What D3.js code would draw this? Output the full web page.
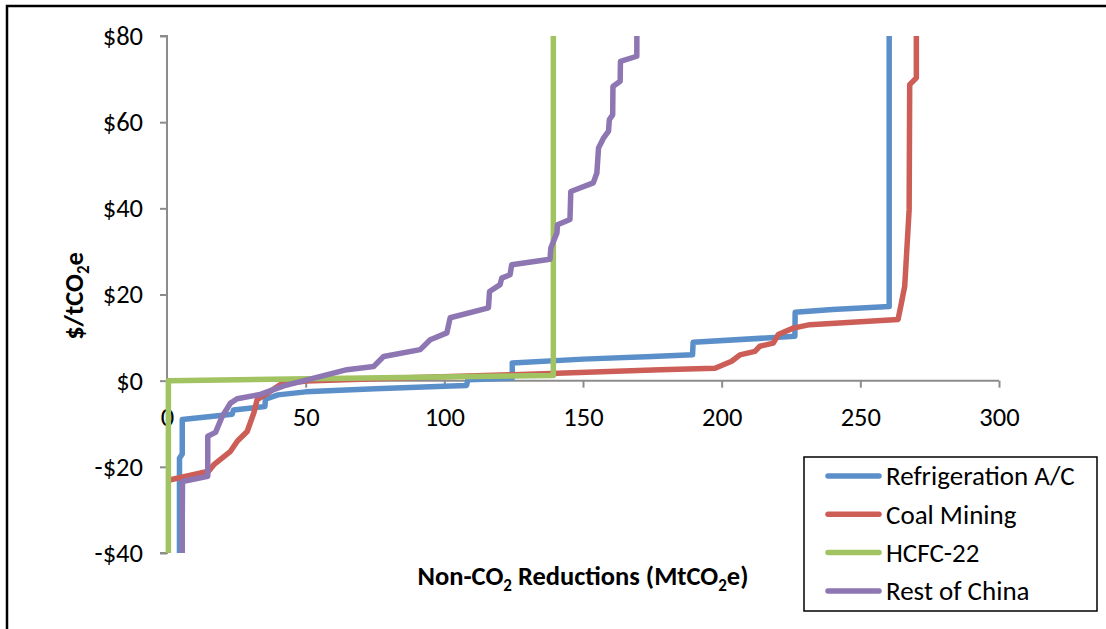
<!DOCTYPE html>
<html lang="en">
<head>
    <meta charset="UTF-8">
    <title>Non-CO2 abatement curves</title>
    <script src="https://cdn.jsdelivr.net/npm/d3@7"></script>
    <style>
        body {margin: 0; background: white;}
        text {font-family: Carlito, Calibri, Lato, sans-serif; fill: black;}
    </style>
</head>
<body>
<script>
    const width = 1106;
    const height = 629;
    const margin = {top: 36, right: 107, bottom: 76, left: 167};

    // x = cumulative reductions (MtCO2e), y = cost ($/tCO2e)
    const refrigeration = [
        [4.5, -60], [4.5, -18], [5.5, -17], [5.5, -9], [23.5, -7.8], [24, -6.8],
        [35.3, -6], [35.5, -4.3], [40, -3.3], [50, -2.6], [75, -1.9], [100, -1.3],
        [108, -1.1], [108.5, 0.2], [124.5, 0.6], [124.5, 4.1], [150, 5], [175, 5.6],
        [189.5, 6], [189.7, 8.9], [226.4, 10.3], [226.5, 15.9], [240, 16.5],
        [260.4, 17.2], [260.4, 100]
    ];
    const coalMining = [
        [1.3, -23], [15, -21], [16.9, -19.5], [22.9, -16.4], [25.4, -14], [28.9, -11.8],
        [31.3, -7.5], [32.5, -4.4], [35.5, -3.2], [40.9, -0.9], [50, -0.1], [84, 0.6],
        [125, 1.4], [177.8, 2.55], [197.6, 2.9], [203.6, 4.5], [206.6, 6], [212, 6.8],
        [213.8, 8], [218.6, 8.7], [220.4, 10.7], [225.8, 12.2], [231.8, 13],
        [263.6, 14.2], [264.8, 18], [266, 21.9], [267.6, 39.7], [267.8, 68.7],
        [270.2, 70.3], [270.2, 100]
    ];
    const hcfc22 = [
        [0.5, -60], [0.5, 0], [139.3, 1.2], [139.3, 100]
    ];
    const restOfChina = [
        [5.5, -60], [5.5, -32], [5.6, -23.4], [14.7, -22.2], [14.7, -12.9], [17.5, -12],
        [19.9, -8.3], [22.9, -5.2], [25.3, -4.2], [33.7, -3.2], [42.1, -1.2],
        [50.5, 0.2], [64.9, 2.55], [74.5, 3.3], [78.1, 5.6], [91.3, 7.2], [94.9, 9.5],
        [100.9, 11.1], [102.1, 14.6], [115.9, 16.9], [116.3, 20.7], [120.1, 22.3],
        [120.7, 23.8], [123.7, 24.6], [124.3, 26.9], [138.1, 28.2], [138.4, 30.8],
        [140.6, 34.3], [140.8, 36.2], [145.3, 37.4], [145.6, 43.9], [153.7, 45.9],
        [155, 48.2], [155.6, 54], [157.4, 56.3], [159.2, 57.9], [159.5, 60.6],
        [160.7, 61.7], [160.8, 68.3], [163.4, 69.5], [163.5, 74.1], [169.4, 75.3],
        [169.5, 100]
    ];

    const seriesNames = ["Refrigeration A/C", "Coal Mining", "HCFC-22", "Rest of China"];
    const seriesData = [refrigeration, coalMining, hcfc22, restOfChina];
    const seriesColors = ["#5b8fc9", "#cc5e57", "#a2c361", "#8d76b2"];

    const xTicks = [0, 50, 100, 150, 200, 250, 300];
    const yTicks = [-40, -20, 0, 20, 40, 60, 80];

    const plotW = width - margin.left - margin.right;
    const plotH = height - margin.top - margin.bottom;

    const svg = d3.select("body").append("svg")
            .attr("width", width).attr("height", height);

    // outer chart border (right and bottom fall outside the picture)
    svg.append("path")
            .attr("d", `M7,${height + 5}V6H${width + 5}`)
            .style("fill", "none")
            .style("stroke", "black")
            .style("stroke-width", 2.5);

    const x = d3.scaleLinear().domain([0, 300]).range([0, plotW]);
    const y = d3.scaleLinear().domain([-40, 80]).range([plotH, 0]);

    const g = svg.append("g")
            .attr("transform", `translate(${margin.left},${margin.top})`);

    // y axis
    const yAxis = g.append("g")
            .call(d3.axisLeft(y).tickValues(yTicks).tickSize(7).tickPadding(17)
                    .tickFormat(d => (d < 0 ? "-$" : "$") + Math.abs(d)));
    // x axis sits on the zero line
    const xAxis = g.append("g")
            .attr("transform", `translate(0,${y(0)})`)
            .call(d3.axisBottom(x).tickValues(xTicks).tickSize(7).tickPadding(20));

    [yAxis, xAxis].forEach(a => {
        a.attr("font-size", null).attr("font-family", null);
        a.select(".domain").style("stroke", "#8c8c8c").style("stroke-width", 2);
        a.selectAll(".tick line").style("stroke", "#8c8c8c").style("stroke-width", 2);
        a.selectAll(".tick text").style("font-size", "26.5px");
    });
    xAxis.select(".domain").attr("d", `M0,0H${plotW}`);
    yAxis.select(".domain").attr("d", `M-7,0H0V${plotH}H-7`);

    svg.append("clipPath").attr("id", "plot-clip")
            .append("rect").attr("width", plotW + 10).attr("height", plotH)
            .attr("x", -5);

    const line = d3.line().x(d => x(d[0])).y(d => y(d[1]));

    g.append("g").attr("clip-path", "url(#plot-clip)")
            .selectAll("path.series")
            .data(seriesData)
            .enter()
            .append("path")
            .attr("class", "series")
            .attr("d", line)
            .style("fill", "none")
            .style("stroke", (d, i) => seriesColors[i])
            .style("stroke-width", 5.5)
            .style("stroke-linejoin", "round")
            .style("stroke-linecap", "round");

    // axis titles
    const yTitle = svg.append("text")
            .attr("transform", "translate(83,296) rotate(-90)")
            .attr("text-anchor", "middle")
            .style("font-size", "26.5px")
            .style("font-weight", "bold");
    yTitle.append("tspan").text("$/tCO");
    yTitle.append("tspan").text("2").style("font-size", "17px").attr("dy", 6);
    yTitle.append("tspan").text("e").attr("dy", -6);

    const xTitle = svg.append("text")
            .attr("x", 583).attr("y", 585)
            .attr("text-anchor", "middle")
            .style("font-size", "26.5px")
            .style("font-weight", "bold");
    xTitle.append("tspan").text("Non-CO");
    xTitle.append("tspan").text("2").style("font-size", "17px").attr("dy", 6);
    xTitle.append("tspan").text(" Reductions (MtCO").attr("dy", -6);
    xTitle.append("tspan").text("2").style("font-size", "17px").attr("dy", 6);
    xTitle.append("tspan").text("e)").attr("dy", -6);

    // legend
    const legend = svg.append("g").attr("class", "legend");
    legend.append("rect")
            .attr("x", 804).attr("y", 457)
            .attr("width", 293).attr("height", 154)
            .style("fill", "white")
            .style("stroke", "black")
            .style("stroke-width", 1.5);
    const item = legend.selectAll("g.item")
            .data(seriesNames)
            .enter()
            .append("g")
            .attr("class", "item")
            .attr("transform", (d, i) => `translate(0,${476 + i * 38.3})`);
    item.append("line")
            .attr("x1", 828).attr("x2", 879)
            .style("stroke", (d, i) => seriesColors[i])
            .style("stroke-width", 5.5)
            .style("stroke-linecap", "round");
    item.append("text")
            .attr("x", 886).attr("dy", "0.35em")
            .style("font-size", "27px")
            .text(d => d);
</script>
</body>
</html>
